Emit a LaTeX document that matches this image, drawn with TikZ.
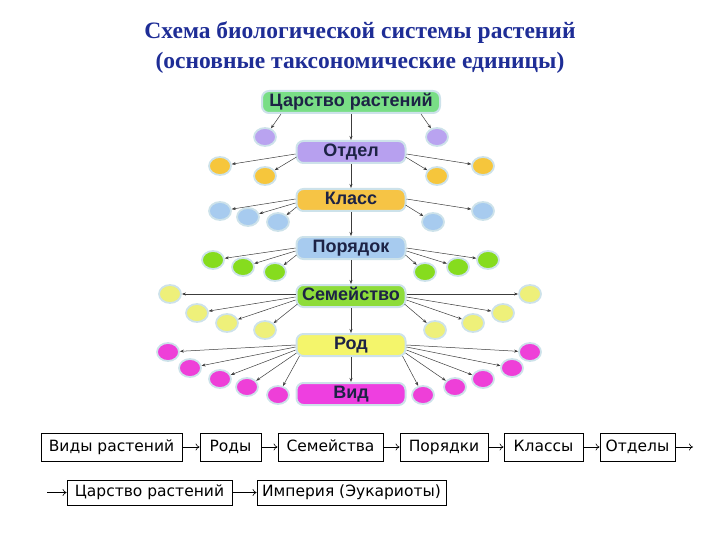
\documentclass[tikz,border=0pt]{standalone}
\usepackage{fontspec}
\setmainfont{Liberation Serif}
\newfontfamily\ranksf{Liberation Sans}
\newfontfamily\botsf{DejaVu Sans}
\usetikzlibrary{shapes.geometric,arrows.meta,calc}
\definecolor{glow}{RGB}{205,226,234}
\definecolor{navy}{RGB}{29,35,69}
\definecolor{titleblue}{RGB}{30,45,150}
\definecolor{cTsar}{RGB}{121,222,134}
\definecolor{cOtd}{RGB}{183,160,239}
\definecolor{cKl}{RGB}{246,196,69}
\definecolor{cPor}{RGB}{167,203,239}
\definecolor{cSem}{RGB}{141,220,58}
\definecolor{cRod}{RGB}{244,245,107}
\definecolor{cVid}{RGB}{238,63,224}
\definecolor{dPur}{RGB}{185,163,240}
\definecolor{dOra}{RGB}{246,198,60}
\definecolor{dBlu}{RGB}{167,203,239}
\definecolor{dGre}{RGB}{134,220,30}
\definecolor{dYel}{RGB}{238,240,122}
\definecolor{dMag}{RGB}{238,63,216}
\definecolor{arrgray}{RGB}{60,60,60}
\tikzset{
  rank/.style={rectangle, rounded corners=7pt, minimum height=22pt, minimum width=109pt,
    draw=glow, line width=2pt, text=navy, inner sep=0pt, text height=12.5pt, text depth=3.5pt,
    font=\ranksf\bfseries\fontsize{18}{20}\selectfont},
  dot/.style={ellipse, minimum width=22pt, minimum height=18pt, draw=glow, line width=1.8pt, inner sep=0pt},
  arr/.style={-{Stealth[length=4pt,width=3pt]}, draw=arrgray, line width=0.5pt},
  bbox/.style={rectangle, draw=black, line width=0.8pt, inner sep=0pt, text height=11.5pt, text depth=3.5pt,
    font=\botsf\fontsize{15.5}{18}\selectfont},
  tarr/.style={-{To[length=4pt,width=7pt]}, draw=black, line width=0.6pt},
}
\begin{document}
\begin{tikzpicture}[x=1pt,y=-1pt]
\useasboundingbox (0,0) rectangle (720,540);
\node[font=\bfseries\fontsize{23.5}{30}\selectfont, text=titleblue, align=center] (title) at (360,48)
  {Схема биологической системы растений\\(основные таксономические единицы)};

% main ranks
\node[rank, fill=cTsar, minimum width=178pt] (tsar) at (351,102) {Царство растений};
\node[rank, fill=cOtd] (otd) at (351,152) {Отдел};
\node[rank, fill=cKl] (kl) at (351,200) {Класс};
\node[rank, fill=cPor] (por) at (351,248) {Порядок};
\node[rank, fill=cSem] (sem) at (351,296) {Семейство};
\node[rank, fill=cRod] (rod) at (351,345) {Род};
\node[rank, fill=cVid] (vid) at (351,394) {Вид};

\foreach \a/\b in {tsar/otd,otd/kl,kl/por,por/sem,sem/rod,rod/vid}
  \draw[arr] (\a.south) -- (\b.north);

% dots
\node[dot, fill=dPur] (p1) at (265,137) {};
\node[dot, fill=dPur] (p2) at (437,137) {};
\draw[arr] ($(tsar.south west)+(20,0)$) -- (p1);
\draw[arr] ($(tsar.south east)+(-20,0)$) -- (p2);

\node[dot, fill=dOra] (o1) at (220,166) {};
\node[dot, fill=dOra] (o2) at (265,176) {};
\node[dot, fill=dOra] (o3) at (437,176) {};
\node[dot, fill=dOra] (o4) at (483,166) {};
\draw[arr] ($(otd.west)+(0,2)$) -- (o1);
\draw[arr] ($(otd.west)+(1,5)$) -- (o2);
\draw[arr] ($(otd.east)+(-1,5)$) -- (o3);
\draw[arr] ($(otd.east)+(0,2)$) -- (o4);

\node[dot, fill=dBlu] (b1) at (220,211) {};
\node[dot, fill=dBlu] (b2) at (248,217) {};
\node[dot, fill=dBlu] (b3) at (278,222) {};
\node[dot, fill=dBlu] (b4) at (433,222) {};
\node[dot, fill=dBlu] (b5) at (483,211) {};
\draw[arr] ($(kl.west)+(0,-1)$) -- (b1);
\draw[arr] ($(kl.west)+(0,3)$) -- (b2);
\draw[arr] ($(kl.west)+(1,7)$) -- (b3);
\draw[arr] ($(kl.east)+(-1,5)$) -- (b4);
\draw[arr] ($(kl.east)+(0,-1)$) -- (b5);

\node[dot, fill=dGre] (g1) at (213,260) {};
\node[dot, fill=dGre] (g2) at (243,267) {};
\node[dot, fill=dGre] (g3) at (275,272) {};
\node[dot, fill=dGre] (g4) at (425,272) {};
\node[dot, fill=dGre] (g5) at (458,267) {};
\node[dot, fill=dGre] (g6) at (488,260) {};
\draw[arr] ($(por.west)+(0,0)$) -- (g1);
\draw[arr] ($(por.west)+(0,3)$) -- (g2);
\draw[arr] ($(por.west)+(1,7)$) -- (g3);
\draw[arr] ($(por.east)+(-1,7)$) -- (g4);
\draw[arr] ($(por.east)+(0,3)$) -- (g5);
\draw[arr] ($(por.east)+(0,0)$) -- (g6);

\node[dot, fill=dYel] (y1) at (170,294) {};
\node[dot, fill=dYel] (y2) at (197,313) {};
\node[dot, fill=dYel] (y3) at (227,323) {};
\node[dot, fill=dYel] (y4) at (265,330) {};
\node[dot, fill=dYel] (y5) at (435,330) {};
\node[dot, fill=dYel] (y6) at (473,323) {};
\node[dot, fill=dYel] (y7) at (503,313) {};
\node[dot, fill=dYel] (y8) at (530,294) {};
\draw[arr] ($(sem.west)+(0,-2)$) -- (y1);
\draw[arr] ($(sem.west)+(0,1)$) -- (y2);
\draw[arr] ($(sem.west)+(0,4)$) -- (y3);
\draw[arr] ($(sem.west)+(2,8)$) -- (y4);
\draw[arr] ($(sem.east)+(-2,8)$) -- (y5);
\draw[arr] ($(sem.east)+(0,4)$) -- (y6);
\draw[arr] ($(sem.east)+(0,1)$) -- (y7);
\draw[arr] ($(sem.east)+(0,-2)$) -- (y8);

\node[dot, fill=dMag] (m1) at (168,352) {};
\node[dot, fill=dMag] (m2) at (190,368) {};
\node[dot, fill=dMag] (m3) at (220,379) {};
\node[dot, fill=dMag] (m4) at (247,387) {};
\node[dot, fill=dMag] (m5) at (278,395) {};
\node[dot, fill=dMag] (m6) at (423,395) {};
\node[dot, fill=dMag] (m7) at (455,387) {};
\node[dot, fill=dMag] (m8) at (483,379) {};
\node[dot, fill=dMag] (m9) at (512,368) {};
\node[dot, fill=dMag] (m10) at (530,352) {};
\draw[arr] ($(rod.west)+(0,0)$) -- (m1);
\draw[arr] ($(rod.west)+(0,2)$) -- (m2);
\draw[arr] ($(rod.west)+(0,5)$) -- (m3);
\draw[arr] ($(rod.west)+(1,8)$) -- (m4);
\draw[arr] ($(rod.west)+(4,11)$) -- (m5);
\draw[arr] ($(rod.east)+(-4,11)$) -- (m6);
\draw[arr] ($(rod.east)+(-1,8)$) -- (m7);
\draw[arr] ($(rod.east)+(0,5)$) -- (m8);
\draw[arr] ($(rod.east)+(0,2)$) -- (m9);
\draw[arr] ($(rod.east)+(0,0)$) -- (m10);

% bottom chain
\node[bbox, minimum width=141pt, minimum height=28pt] (vr) at (111.5,447) {Виды растений};
\node[bbox, minimum width=61pt, minimum height=28pt] (rody) at (230.5,447) {Роды};
\node[bbox, minimum width=105pt, minimum height=28pt] (semy) at (330.5,447) {Семейства};
\node[bbox, minimum width=88pt, minimum height=28pt] (pory) at (444,447) {Порядки};
\node[bbox, minimum width=79pt, minimum height=28pt] (kly) at (543.5,447) {Классы};
\node[bbox, minimum width=75pt, minimum height=28pt] (oty) at (637.5,447) {Отделы};
\coordinate (end1) at (693,447);
\draw[tarr] (vr) -- (rody);
\draw[tarr] (rody) -- (semy);
\draw[tarr] (semy) -- (pory);
\draw[tarr] (pory) -- (kly);
\draw[tarr] (kly) -- (oty);
\draw[tarr] (oty) -- (end1);

\coordinate (start2) at (47,492.5);
\node[bbox, minimum width=165pt, minimum height=25pt] (tsr) at (149.5,492.5) {Царство растений};
\node[bbox, minimum width=189pt, minimum height=25pt] (imp) at (351.5,492.5) {Империя (Эукариоты)};
\draw[tarr] (start2) -- (tsr);
\draw[tarr] (tsr) -- (imp);
\end{tikzpicture}
\end{document}
